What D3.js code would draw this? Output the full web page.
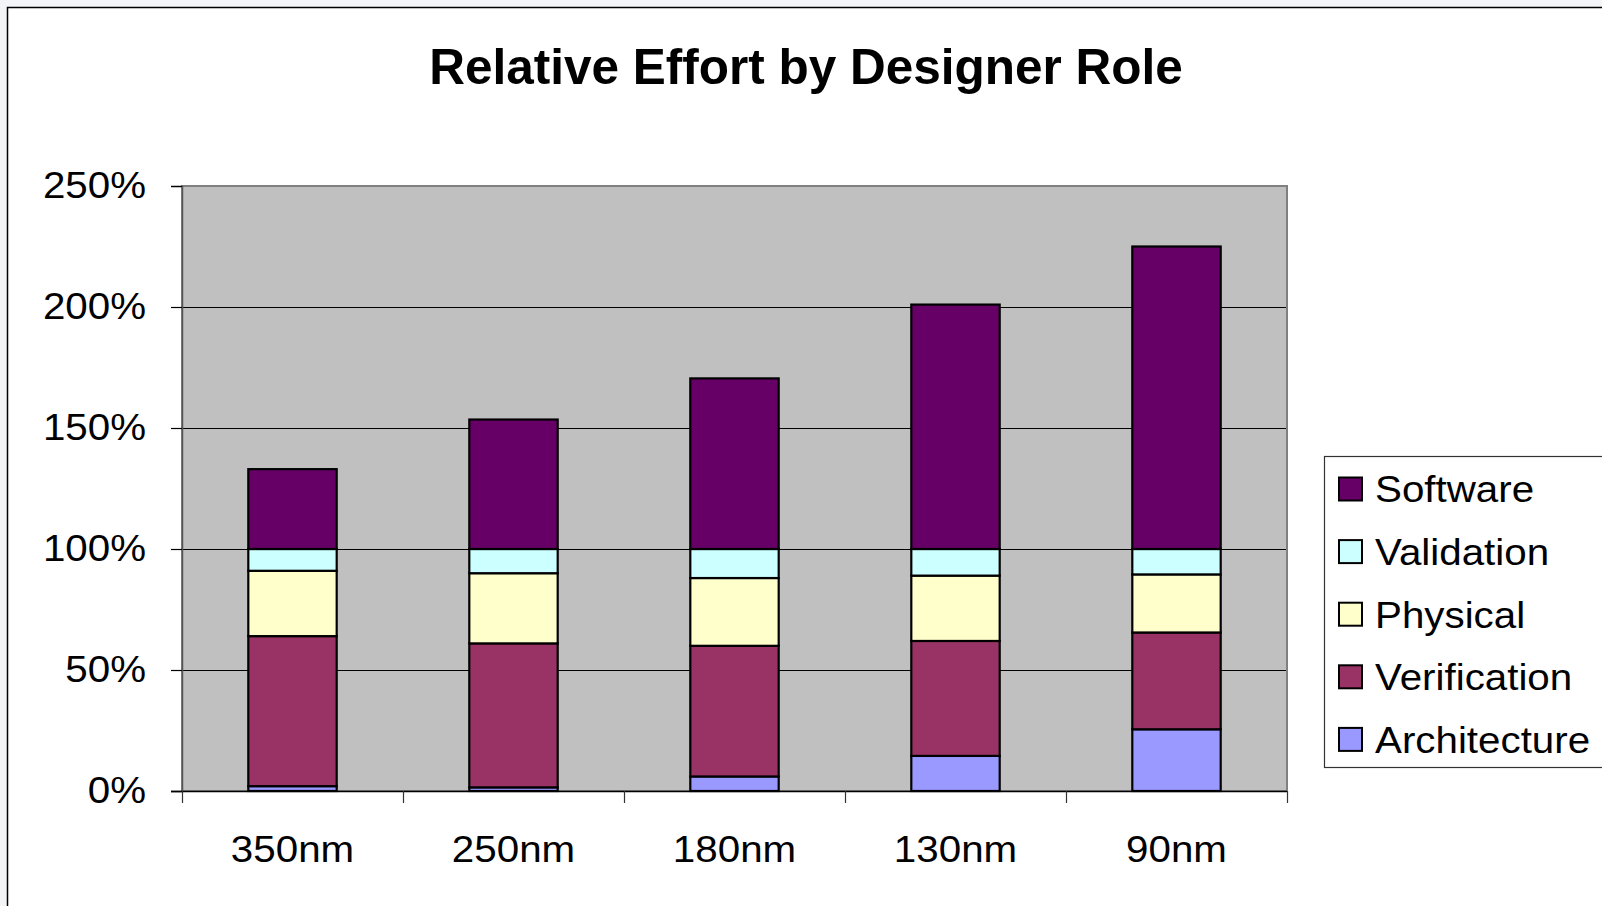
<!DOCTYPE html>
<html>
<head>
<meta charset="utf-8">
<script src="https://cdn.jsdelivr.net/npm/d3@7"></script>
<style>
  html, body { margin: 0; padding: 0; background: #ffffff; }
  svg { display: block; }
  text { font-family: "Liberation Sans", Arial, Helvetica, sans-serif; fill: #000; }
</style>
</head>
<body>
<script>
// ---- Data ----
const categories = ["350nm", "250nm", "180nm", "130nm", "90nm"];
const seriesNames = ["Architecture", "Verification", "Physical", "Validation", "Software"];
const architecture = [2, 1.5, 6, 14.5, 25.5];
const verification = [62, 59.5, 54, 47.5, 40];
const physical = [27, 29, 28, 27, 24];
const validation = [9, 10, 12, 11, 10.5];
const software = [33, 53.5, 70.5, 101, 125];
const yTicks = [0, 50, 100, 150, 200, 250];
const colors = ["#9999FF", "#993366", "#FFFFCC", "#CCFFFF", "#660066"];
const title = "Relative Effort by Designer Role";

const W = 1602, H = 906;
const plot = { left: 182, right: 1287, top: 186, bottom: 791 };
const sx = 1.09; // horizontal stretch of the original text
const fs = 37;

const table = categories.map((c, i) => ({
  cat: c,
  Architecture: architecture[i],
  Verification: verification[i],
  Physical: physical[i],
  Validation: validation[i],
  Software: software[i]
}));

const svg = d3.select("body").append("svg").attr("width", W).attr("height", H);

// page background and frame
svg.append("rect").attr("x", 0).attr("y", 0).attr("width", W).attr("height", H).attr("fill", "#f2f4f7");
svg.append("rect").attr("x", 7).attr("y", 7).attr("width", W).attr("height", H).attr("fill", "#ffffff");
svg.append("path").attr("d", `M7.5,${H} V7.5 H${W}`).attr("fill", "none").attr("stroke", "#000").attr("stroke-width", 1.5);

const x = d3.scaleBand().domain(categories).range([plot.left, plot.right]).paddingInner(0.6).paddingOuter(0.3);
const y = d3.scaleLinear().domain([0, 250]).range([plot.bottom, plot.top]);

// plot area
svg.append("rect")
  .attr("x", plot.left).attr("y", plot.top)
  .attr("width", plot.right - plot.left).attr("height", plot.bottom - plot.top)
  .attr("fill", "#C0C0C0");

// gridlines
svg.append("g").selectAll("line").data(yTicks.filter(t => t > 0 && t < 250)).join("line")
  .attr("x1", plot.left).attr("x2", plot.right)
  .attr("y1", d => Math.round(y(d)) + 0.5).attr("y2", d => Math.round(y(d)) + 0.5)
  .attr("stroke", "#000").attr("stroke-width", 1);

// plot border
svg.append("rect")
  .attr("x", plot.left).attr("y", plot.top)
  .attr("width", plot.right - plot.left).attr("height", plot.bottom - plot.top)
  .attr("fill", "none").attr("stroke", "#808080").attr("stroke-width", 2);

// bars
const stack = d3.stack().keys(seriesNames);
const stacked = stack(table);
svg.append("g").selectAll("g").data(stacked).join("g")
  .attr("fill", (d, i) => colors[i])
  .selectAll("rect").data(d => d).join("rect")
  .attr("x", d => x(d.data.cat))
  .attr("width", x.bandwidth())
  .attr("y", d => y(d[1]))
  .attr("height", d => y(d[0]) - y(d[1]))
  .attr("stroke", "#000").attr("stroke-width", 2.2);

// y axis
const yAxis = svg.append("g").attr("transform", `translate(${plot.left},0)`)
  .call(d3.axisLeft(y).tickValues(yTicks).tickSize(11).tickFormat(d => d + "%"));
yAxis.select(".domain").attr("stroke", "#555").attr("stroke-width", 1.5);
yAxis.selectAll(".tick line").attr("stroke", "#000").attr("stroke-width", 1.2);
yAxis.selectAll(".tick text")
  .attr("x", -36 / sx).attr("dy", "0.3em")
  .attr("transform", `scale(${sx},1)`)
  .style("font-size", fs + "px");

// x axis line
svg.append("line").attr("x1", plot.left - 11).attr("x2", plot.right)
  .attr("y1", plot.bottom + 0.5).attr("y2", plot.bottom + 0.5)
  .attr("stroke", "#000").attr("stroke-width", 1.5);

// x boundary ticks
const boundaries = d3.range(categories.length + 1).map(i => plot.left + i * x.step());
svg.append("g").selectAll("line").data(boundaries).join("line")
  .attr("x1", d => Math.round(d) + 0.5).attr("x2", d => Math.round(d) + 0.5)
  .attr("y1", plot.bottom).attr("y2", plot.bottom + 12)
  .attr("stroke", "#333").attr("stroke-width", 1.2);

// x labels
const xAxis = svg.append("g").attr("transform", `translate(0,${plot.bottom})`)
  .call(d3.axisBottom(x).tickSize(0).tickPadding(45));
xAxis.select(".domain").remove();
xAxis.selectAll(".tick text")
  .attr("transform", `scale(${sx},1)`)
  .style("font-size", fs + "px");

// title
svg.append("text").attr("x", 806).attr("y", 84)
  .attr("text-anchor", "middle")
  .style("font-size", "49.5px").style("font-weight", "bold")
  .text(title);

// legend
const lg = svg.append("g");
lg.append("rect").attr("x", 1324.5).attr("y", 456.5).attr("width", 400).attr("height", 311)
  .attr("fill", "#fff").attr("stroke", "#333").attr("stroke-width", 1.2);
const legendOrder = seriesNames.map((n, i) => ({ name: n, color: colors[i] })).reverse();
const items = lg.selectAll("g.item").data(legendOrder).join("g")
  .attr("class", "item")
  .attr("transform", (d, i) => `translate(0,${489 + i * 62.6})`);
items.append("rect").attr("x", 1339).attr("y", -11.5).attr("width", 23).attr("height", 23)
  .attr("fill", d => d.color).attr("stroke", "#000").attr("stroke-width", 2);
items.append("text")
  .attr("transform", `translate(1375,0) scale(${sx},1)`)
  .attr("dy", "0.36em")
  .style("font-size", fs + "px")
  .text(d => d.name);
</script>
</body>
</html>
